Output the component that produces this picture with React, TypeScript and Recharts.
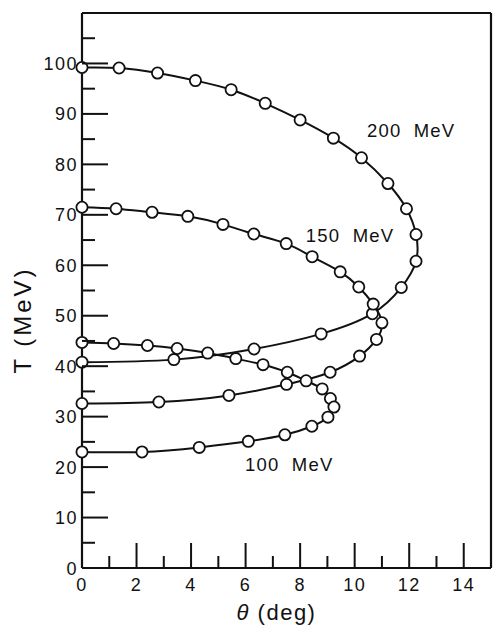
import React from 'react';
import { ScatterChart, Scatter, XAxis, YAxis, ReferenceDot } from 'recharts';

// angle (deg) and kinetic energy T (MeV), one list per beam energy
const theta200 = [0, 1.36, 2.77, 4.16, 5.47, 6.72, 8.0, 9.22, 10.25, 11.22, 11.9, 12.25, 12.25, 11.71, 10.65, 8.77, 6.31, 3.37, 0];
const t200 = [99.2, 99.1, 98.1, 96.6, 94.8, 92.1, 88.8, 85.2, 81.3, 76.2, 71.2, 66.1, 60.8, 55.6, 50.4, 46.4, 43.4, 41.3, 40.8];

const theta150 = [0, 1.25, 2.57, 3.88, 5.17, 6.3, 7.49, 8.44, 9.47, 10.15, 10.68, 11.0, 10.8, 10.18, 9.1, 7.5, 5.39, 2.82, 0];
const t150 = [71.5, 71.2, 70.5, 69.7, 68.1, 66.2, 64.3, 61.7, 58.7, 55.7, 52.3, 48.6, 45.3, 42.0, 38.8, 36.4, 34.2, 32.9, 32.6];

const theta100 = [0, 1.16, 2.4, 3.49, 4.61, 5.64, 6.64, 7.53, 8.22, 8.81, 9.11, 9.24, 9.02, 8.43, 7.44, 6.1, 4.3, 2.2, 0];
const t100 = [44.7, 44.5, 44.1, 43.5, 42.6, 41.5, 40.3, 38.8, 37.1, 35.5, 33.6, 31.9, 29.9, 28.1, 26.4, 25.1, 23.9, 23.0, 23.0];

const thetaTicks = [0, 1, 2, 3, 4, 5, 6, 7, 8, 9, 10, 11, 12, 13, 14, 15];
const tTicks = [0, 5, 10, 15, 20, 25, 30, 35, 40, 45, 50, 55, 60, 65, 70, 75, 80, 85, 90, 95, 100, 105, 110];

const curveLabels = [
  { text: '200 MeV', theta: 10.45, t: 85.4 },
  { text: '150 MeV', theta: 8.21, t: 64.6 },
  { text: '100 MeV', theta: 5.98, t: 19.2 },
];

const FONT = '"Liberation Sans", Arial, sans-serif';
const INK = '#111';

const toRows = (xs: number[], ys: number[]) => xs.map((x, i) => ({ theta: x, T: ys[i] }));

const series = [
  { name: '200 MeV', data: toRows(theta200, t200) },
  { name: '150 MeV', data: toRows(theta150, t150) },
  { name: '100 MeV', data: toRows(theta100, t100) },
];

function BottomTick(props: any) {
  const { x, y, payload } = props;
  const v = payload.value;
  const major = v % 2 === 0;
  if (v === 15) return <g />;
  return (
    <g>
      {v !== 0 && (
        <line x1={x} y1={y} x2={x} y2={y - (major ? 25 : 12)} stroke={INK} strokeWidth={2} />
      )}
      {major && (
        <text x={x} y={y + 23} textAnchor="middle" fontFamily={FONT} fontSize={18} fill={INK} letterSpacing={1.5}>
          {v}
        </text>
      )}
    </g>
  );
}

function TopTick(props: any) {
  const { x, y, payload } = props;
  const v = payload.value;
  if (v === 0 || v === 15) return <g />;
  const major = v % 2 === 0;
  return <line x1={x} y1={y} x2={x} y2={y + (major ? 23 : 11)} stroke={INK} strokeWidth={2} />;
}

function LeftTick(props: any) {
  const { x, y, payload } = props;
  const v = payload.value;
  const major = v % 10 === 0;
  return (
    <g>
      {v !== 0 && v !== 110 && (
        <line x1={x} y1={y} x2={x + (major ? 26 : 13)} y2={y} stroke={INK} strokeWidth={2} />
      )}
      {major && v <= 100 && (
        <text x={x - 4} y={y + 6.5} textAnchor="end" fontFamily={FONT} fontSize={18} fill={INK} letterSpacing={1.5}>
          {v}
        </text>
      )}
    </g>
  );
}

function RightTick(props: any) {
  const { x, y, payload } = props;
  const v = payload.value;
  if (v === 0 || v === 110) return <g />;
  const major = v % 10 === 0;
  return <line x1={x} y1={y} x2={x - (major ? 25 : 12)} y2={y} stroke={INK} strokeWidth={2} />;
}

const OpenCircle = (props: any) => (
  <circle cx={props.cx} cy={props.cy} r={5.6} fill="#fff" stroke={INK} strokeWidth={1.8} />
);

const NoShape = () => <g />;

export default function App() {
  return (
    <div style={{ position: 'absolute', left: 0, top: 0, width: 493, height: 625, background: '#fff' }}>
      <ScatterChart width={493} height={625} margin={{ top: 12, right: 1, bottom: 0, left: 22 }}>
        <XAxis
          type="number"
          dataKey="theta"
          domain={[0, 15]}
          ticks={thetaTicks}
          interval={0}
          tickSize={0}
          tickMargin={0}
          tickLine={false}
          tick={<BottomTick />}
          height={57}
          axisLine={{ stroke: INK, strokeWidth: 2.2 }}
          label={{
            content: (p: any) => {
              const vb = p.viewBox;
              return (
                <text x={vb.x + vb.width / 2 - 10} y={vb.y + 52} textAnchor="middle" fontFamily={FONT} fontSize={22} fill={INK} letterSpacing={1.5}>
                  <tspan fontStyle="italic">θ</tspan> (deg)
                </text>
              );
            },
          }}
        />
        <XAxis
          xAxisId="top"
          orientation="top"
          type="number"
          domain={[0, 15]}
          ticks={thetaTicks}
          interval={0}
          tickSize={0}
          tickMargin={0}
          tickLine={false}
          tick={<TopTick />}
          height={1}
          axisLine={{ stroke: INK, strokeWidth: 2.2 }}
        />
        <YAxis
          type="number"
          dataKey="T"
          domain={[0, 110]}
          ticks={tTicks}
          interval={0}
          tickSize={0}
          tickMargin={0}
          tickLine={false}
          tick={<LeftTick />}
          width={60}
          axisLine={{ stroke: INK, strokeWidth: 2.2 }}
          label={{
            content: () => (
              <text
                x={22}
                y={320}
                transform="rotate(-90, 22, 320)"
                textAnchor="middle"
                dominantBaseline="central"
                fontFamily={FONT}
                fontSize={24}
                letterSpacing={3}
                fill={INK}
              >
                T (MeV)
              </text>
            ),
          }}
        />
        <YAxis
          yAxisId="right"
          orientation="right"
          type="number"
          domain={[0, 110]}
          ticks={tTicks}
          interval={0}
          tickSize={0}
          tickMargin={0}
          tickLine={false}
          tick={<RightTick />}
          width={1}
          axisLine={{ stroke: INK, strokeWidth: 2.2 }}
        />
        {series.map((s) => (
          <Scatter
            key={`line-${s.name}`}
            name={s.name}
            data={s.data}
            line={{ stroke: INK, strokeWidth: 2 }}
            lineJointType="natural"
            fill={INK}
            shape={NoShape}
            isAnimationActive={false}
          />
        ))}
        {series.map((s) => (
          <Scatter
            key={`pts-${s.name}`}
            name={s.name}
            data={s.data}
            shape={OpenCircle}
            isAnimationActive={false}
          />
        ))}
        {curveLabels.map((l) => (
          <ReferenceDot
            key={l.text}
            x={l.theta}
            y={l.t}
            r={0}
            shape={(p: any) => (
              <text x={p.cx} y={p.cy} fontFamily={FONT} fontSize={18.5} fill={INK} letterSpacing={1.2} wordSpacing={6}>
                {l.text}
              </text>
            )}
          />
        ))}
      </ScatterChart>
    </div>
  );
}
